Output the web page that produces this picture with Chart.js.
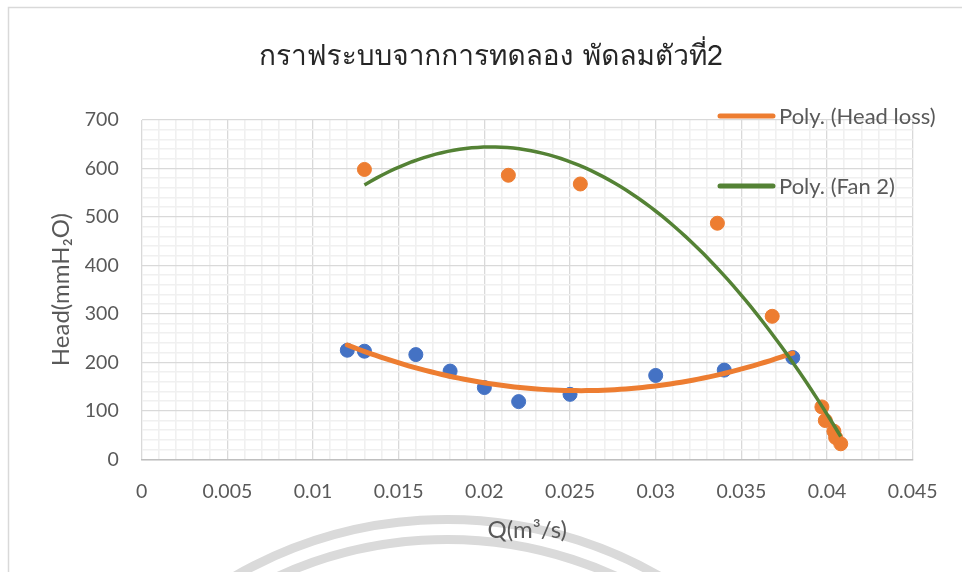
<!DOCTYPE html>
<html>
<head>
<meta charset="utf-8">
<script src="https://cdn.jsdelivr.net/npm/chart.js@4"></script>
<style>
  html, body { margin: 0; padding: 0; background: #fff; }
  #wrap { width: 962px; height: 572px; }
</style>
</head>
<body>
<div id="wrap"><canvas id="fanChart" width="962" height="572"></canvas></div>
<script>
// measured points: Q in m3/s, head in mmH2O
const headLossQ = [0.012, 0.013, 0.016, 0.018, 0.020, 0.022, 0.025, 0.030, 0.034, 0.038];
const headLossH = [225, 223, 216, 182, 148, 119, 134, 173, 184, 210];
const fanQ = [0.013, 0.0214, 0.0256, 0.0336, 0.0368, 0.0397, 0.0399, 0.0404, 0.0405, 0.0408];
const fanH = [598, 586, 568, 487, 295, 108, 80, 58, 45, 32];

const seriesNames = ['Head loss', 'Fan 2'];
const xMajorStep = 0.005, xMinorStep = 0.001, xMax = 0.045;
const yMajorStep = 100, yMinorStep = 20, yMax = 700;

const textColor = '#595959';
const tickFont = { family: 'Lato', size: 19.5 };
const axisTitleFont = { family: 'Lato', size: 24 };

// least squares polynomial, same as a spreadsheet "Poly." trendline
function polyFit(xs, ys, order) {
  const n = order + 1;
  const A = Array.from({ length: n }, () => new Array(n + 1).fill(0));
  xs.forEach((x, k) => {
    const u = x * 1000;
    for (let i = 0; i < n; i++) {
      for (let j = 0; j < n; j++) A[i][j] += Math.pow(u, i + j);
      A[i][n] += ys[k] * Math.pow(u, i);
    }
  });
  for (let c = 0; c < n; c++) {
    let p = c;
    for (let r = c + 1; r < n; r++) if (Math.abs(A[r][c]) > Math.abs(A[p][c])) p = r;
    [A[c], A[p]] = [A[p], A[c]];
    for (let r = 0; r < n; r++) {
      if (r === c) continue;
      const f = A[r][c] / A[c][c];
      for (let k = c; k <= n; k++) A[r][k] -= f * A[c][k];
    }
  }
  return A.map((row, i) => row[n] / row[i]);
}

function trendPoints(xs, ys) {
  const coef = polyFit(xs, ys, 2);
  const lo = Math.min(...xs), hi = Math.max(...xs);
  const pts = [];
  for (let i = 0; i <= 80; i++) {
    const x = lo + (hi - lo) * i / 80;
    const u = x * 1000;
    pts.push({ x: x, y: coef.reduce((s, c, p) => s + c * Math.pow(u, p), 0) });
  }
  return pts;
}

const toPoints = (xs, ys) => xs.map((x, i) => ({ x: x, y: ys[i] }));

function isMultiple(v, step) {
  const r = v / step;
  return Math.abs(r - Math.round(r)) < 1e-6;
}

// page frame and the faint rings behind the chart
const backdrop = {
  id: 'backdrop',
  beforeDraw(chart) {
    const ctx = chart.ctx;
    ctx.save();
    ctx.fillStyle = '#fff';
    ctx.fillRect(0, 0, chart.width, chart.height);
    ctx.strokeStyle = '#d9d9d9';
    ctx.lineWidth = 1.5;
    ctx.beginPath();
    ctx.moveTo(8.5, chart.height);
    ctx.lineTo(8.5, 7.5);
    ctx.lineTo(chart.width, 7.5);
    ctx.stroke();
    ctx.strokeStyle = '#dadada';
    ctx.lineWidth = 9;
    [425.5, 405.5].forEach(r => {
      ctx.beginPath();
      ctx.arc(447, 945, r, Math.PI * 1.1, Math.PI * 1.9);
      ctx.stroke();
    });
    ctx.restore();
  }
};

// legend for the two trendlines, stacked at the upper right
const trendLegend = {
  id: 'trendLegend',
  afterDraw(chart) {
    const ctx = chart.ctx;
    const rows = chart.data.datasets.filter(d => d.trend).sort((a, b) => a.legendRank - b.legendRank);
    ctx.save();
    ctx.font = '22px Lato';
    ctx.textBaseline = 'middle';
    rows.forEach((d, i) => {
      const y = 116 + i * 70;
      ctx.strokeStyle = d.borderColor;
      ctx.lineWidth = 5;
      ctx.lineCap = 'round';
      ctx.beginPath();
      ctx.moveTo(720, y);
      ctx.lineTo(773, y);
      ctx.stroke();
      ctx.fillStyle = textColor;
      ctx.fillText(d.label, 779, y + 1);
    });
    ctx.restore();
  }
};

new Chart(document.getElementById('fanChart'), {
  type: 'scatter',
  data: {
    datasets: [
      {
        label: 'Poly. (' + seriesNames[1] + ')',
        trend: true,
        legendRank: 1,
        data: trendPoints(fanQ, fanH),
        showLine: true,
        borderColor: '#548235',
        borderWidth: 3.5,
        pointRadius: 0,
        order: 0
      },
      {
        label: 'Poly. (' + seriesNames[0] + ')',
        trend: true,
        legendRank: 0,
        data: trendPoints(headLossQ, headLossH),
        showLine: true,
        borderColor: '#ED7D31',
        borderWidth: 5,
        borderCapStyle: 'round',
        pointRadius: 0,
        order: 1
      },
      {
        label: seriesNames[1],
        data: toPoints(fanQ, fanH),
        backgroundColor: '#ED7D31',
        borderColor: '#ED7D31',
        pointRadius: 7,
        order: 2
      },
      {
        label: seriesNames[0],
        data: toPoints(headLossQ, headLossH),
        backgroundColor: '#4472C4',
        borderColor: '#4472C4',
        pointRadius: 7,
        order: 3
      }
    ]
  },
  options: {
    responsive: false,
    animation: false,
    layout: { padding: { left: 20, right: 0, top: 0, bottom: 0 } },
    plugins: {
      legend: { display: false },
      tooltip: { enabled: false },
      title: {
        display: true,
        text: 'กราฟระบบจากการทดลอง พัดลมตัวที่2',
        color: '#262626',
        font: { family: "'Loma', 'Garuda', 'Norasi', 'Noto Sans Thai', sans-serif", size: 28, weight: '300' },
        padding: { top: 42, bottom: 44.4 }
      }
    },
    scales: {
      x: {
        type: 'linear',
        min: 0,
        max: xMax,
        afterFit(scale) { scale.height = 112.7; },
        afterBuildTicks(scale) {
          const ticks = [];
          for (let i = 0; i <= Math.round(xMax / xMinorStep); i++) ticks.push({ value: i * xMinorStep });
          scale.ticks = ticks;
        },
        ticks: {
          autoSkip: false,
          maxRotation: 0,
          padding: 21,
          color: textColor,
          font: tickFont,
          callback: v => isMultiple(v, xMajorStep) ? String(Math.round(v * 1000) / 1000) : ''
        },
        grid: {
          drawTicks: false,
          color: c => isMultiple(c.tick.value, xMajorStep) ? '#d9d9d9' : '#f0f0f0',
          lineWidth: c => isMultiple(c.tick.value, xMajorStep) ? 1.3 : 1.6
        },
        border: { color: '#bfbfbf', width: 1.5 },
        title: {
          display: true,
          text: 'Q(m³/s)',
          color: textColor,
          font: axisTitleFont,
          padding: 27
        }
      },
      y: {
        min: 0,
        max: yMax,
        afterFit(scale) { scale.width = 121.7; },
        ticks: {
          stepSize: yMinorStep,
          autoSkip: false,
          padding: 23,
          color: textColor,
          font: tickFont,
          callback: v => isMultiple(v, yMajorStep) ? String(v) : ''
        },
        grid: {
          drawTicks: false,
          color: c => isMultiple(c.tick.value, yMajorStep) ? '#d9d9d9' : '#f0f0f0',
          lineWidth: c => isMultiple(c.tick.value, yMajorStep) ? 1.3 : 1.6
        },
        border: { display: false },
        title: {
          display: true,
          text: 'Head(mmH₂O)',
          color: textColor,
          font: axisTitleFont,
          padding: 26.6
        }
      },
      // empty right-hand strip, keeps the plot clear of the page edge
      yRight: {
        position: 'right',
        min: 0,
        max: yMax,
        afterFit(scale) { scale.width = 49.3; },
        ticks: { display: false },
        grid: { display: false },
        border: { display: false }
      }
    }
  },
  plugins: [backdrop, trendLegend]
});
</script>
</body>
</html>
